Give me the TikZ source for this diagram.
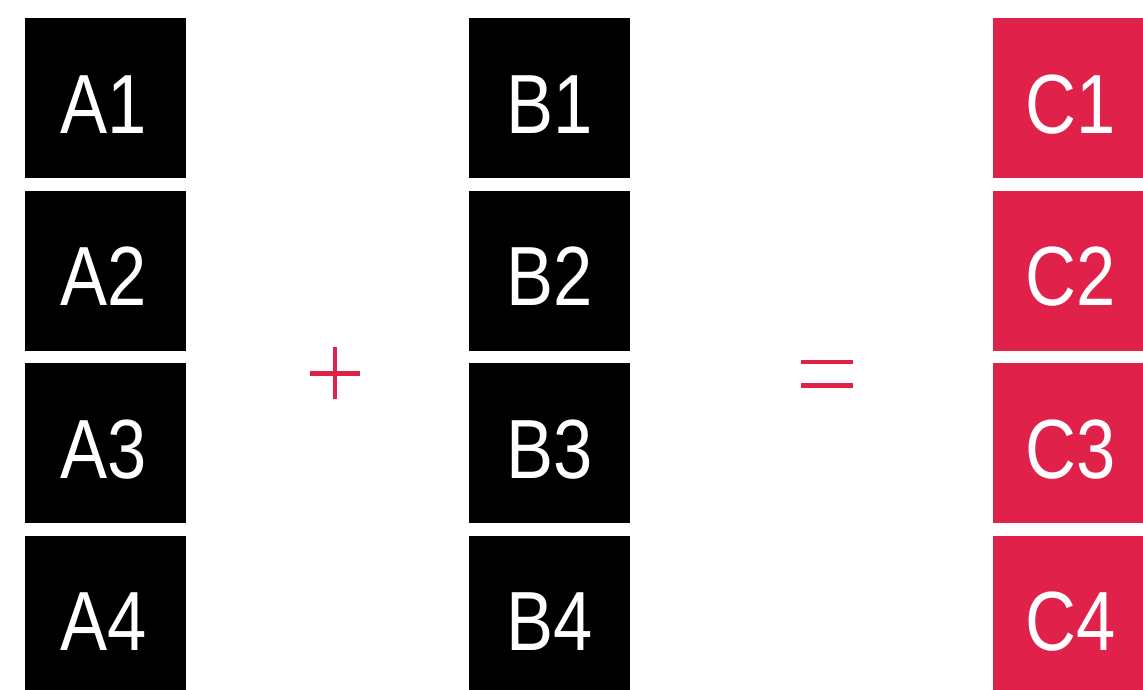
\documentclass[tikz,border=0pt]{standalone}
\usepackage{fontspec}
\setmainfont[FakeStretch=0.84]{Liberation Sans}
\definecolor{accent}{HTML}{E0224A}
\begin{document}
\begin{tikzpicture}[x=1pt,y=-1pt,
  cell/.style={fill=#1, draw=none, minimum width=161pt, minimum height=160pt,
               inner sep=0pt, anchor=north west},
  celltext/.style={text=white, font=\fontsize{84}{84}\selectfont, anchor=base, inner sep=0pt},
  sign/.style={accent, line width=4.4pt}]
  \useasboundingbox (0,0) rectangle (1143,689);
  \clip (0,0) rectangle (1143,689);
  % three columns of four cells each
  \foreach \r/\y in {1/18,2/190.5,3/363,4/535.5}{
    \node[cell=black]  (a\r) at (25,\y) {};
    \node[cell=black]  (b\r) at (469,\y) {};
    \node[cell=accent] (c\r) at (993,\y) {};
    \node[celltext] (ta\r) at ([xshift=-2pt,yshift=-35pt]a\r.center) {A\r};
    \node[celltext] (tb\r) at ([yshift=-35pt]b\r.center) {B\r};
    \node[celltext] (tc\r) at ([xshift=-3pt,yshift=-35pt]c\r.center) {C\r};
  }
  % plus sign
  \coordinate (plus) at (335,373.3);
  \draw[sign] ([xshift=-24.8pt]plus) -- ([xshift=24.8pt]plus);
  \draw[sign] ([yshift=-26pt]plus) -- ([yshift=26pt]plus);
  % equals sign
  \coordinate (eq) at (827.2,373.5);
  \draw[sign] ([xshift=-25.8pt,yshift=-11.8pt]eq) -- ([xshift=25.8pt,yshift=-11.8pt]eq);
  \draw[sign] ([xshift=-25.8pt,yshift=11.8pt]eq) -- ([xshift=25.8pt,yshift=11.8pt]eq);
\end{tikzpicture}
\end{document}
